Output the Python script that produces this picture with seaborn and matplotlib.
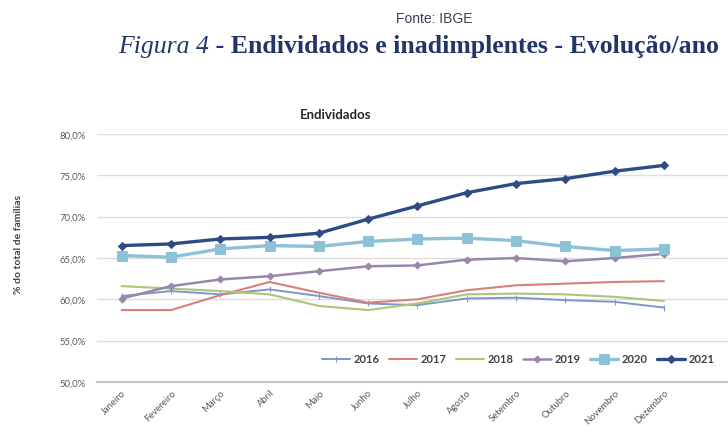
import matplotlib
matplotlib.use("Agg")
import matplotlib.pyplot as plt
import seaborn as sns
import numpy as np
import pandas as pd
from matplotlib.ticker import FixedLocator

# dados (% do total de famílias endividadas)
meses = ["Janeiro", "Fevereiro", "Março", "Abril", "Maio", "Junho",
         "Julho", "Agosto", "Setembro", "Outubro", "Novembro", "Dezembro"]
anos = ["2016", "2017", "2018", "2019", "2020", "2021"]

v2016 = [60.4, 61.0, 60.6, 61.2, 60.4, 59.5, 59.3, 60.1, 60.2, 59.9, 59.7, 59.0]
v2017 = [58.7, 58.7, 60.5, 62.1, 60.8, 59.6, 60.0, 61.1, 61.7, 61.9, 62.1, 62.2]
v2018 = [61.6, 61.3, 61.0, 60.6, 59.2, 58.7, 59.5, 60.6, 60.7, 60.6, 60.3, 59.8]
v2019 = [60.1, 61.6, 62.4, 62.8, 63.4, 64.0, 64.1, 64.8, 65.0, 64.6, 65.0, 65.5]
v2020 = [65.3, 65.1, 66.1, 66.5, 66.4, 67.0, 67.3, 67.4, 67.1, 66.4, 65.9, 66.1]
v2021 = [66.5, 66.7, 67.3, 67.5, 68.0, 69.7, 71.3, 72.9, 74.0, 74.6, 75.5, 76.2]

y_ticks = [50, 55, 60, 65, 70, 75, 80]

COLORS = {
    "2016": "#7d97cc",
    "2017": "#d9807a",
    "2018": "#a9c777",
    "2019": "#9a86ad",
    "2020": "#8cc1d6",
    "2021": "#2f4b86",
}
ESTILO = {
    "2016": dict(marker="|", markersize=4, linewidth=1.4),
    "2017": dict(marker=None, linewidth=1.5),
    "2018": dict(marker=None, linewidth=1.5),
    "2019": dict(marker="D", markersize=3.5, linewidth=1.8),
    "2020": dict(marker="s", markersize=7, linewidth=2.4),
    "2021": dict(marker="D", markersize=4, linewidth=2.4),
}

valores = {"2016": v2016, "2017": v2017, "2018": v2018,
           "2019": v2019, "2020": v2020, "2021": v2021}
df = pd.DataFrame([
    {"mes": i, "ano": ano, "valor": v}
    for ano in anos for i, v in enumerate(valores[ano])
])

sns.set_theme(style="white")
plt.rcParams["font.family"] = ["Lato", "DejaVu Sans"]

fig = plt.figure(figsize=(7.28, 4.39), dpi=100)
fig.patch.set_facecolor("white")
ax = fig.add_axes([97 / 728, 1 - 383 / 439, 631 / 728, 248 / 439])

for ano in anos:
    sub = df[df["ano"] == ano]
    sns.lineplot(data=sub, x="mes", y="valor", ax=ax, color=COLORS[ano],
                 label=ano, markeredgecolor=COLORS[ano], zorder=3,
                 **ESTILO[ano])

ax.set_xlim(-0.5, 12.3)
ax.set_ylim(50, 80)
ax.yaxis.set_major_locator(FixedLocator(y_ticks))
ax.set_yticklabels([f"{t:.1f}%".replace(".", ",") for t in y_ticks])
ax.xaxis.set_major_locator(FixedLocator(range(len(meses))))
ax.set_xticklabels(meses, rotation=45, ha="right", rotation_mode="anchor")
ax.tick_params(axis="both", length=0, labelsize=6.8, colors="#595959")
ax.tick_params(axis="y", pad=8)
ax.tick_params(axis="x", pad=4)
ax.grid(True, axis="y", color="#dedede", linewidth=1.0, zorder=0)
ax.set_xlabel("")
ax.set_ylabel("")
for s in ["top", "right", "left"]:
    ax.spines[s].set_visible(False)
ax.spines["bottom"].set_color("#c8c8c8")
ax.spines["bottom"].set_linewidth(1.6)

ax.legend_.remove()
handles, labels = ax.get_legend_handles_labels()
leg = fig.legend(handles, labels, loc="center left",
                 bbox_to_anchor=(322 / 728, 1 - 360 / 439), ncol=6,
                 frameon=False, handlelength=2.5, handletextpad=0.3,
                 columnspacing=0.9, borderpad=0, borderaxespad=0,
                 prop={"size": 8, "weight": "bold"})
for t in leg.get_texts():
    t.set_color("#404040")

# títulos
fig.text(434 / 728, 1 - 19 / 439, "Fonte: IBGE", ha="center", va="center",
         fontsize=10, color="#3b4152", family="Liberation Sans")
fig.canvas.draw()
r = fig.canvas.get_renderer()
t1 = fig.text(118 / 728, 1 - 47 / 439, "Figura 4", ha="left", va="center",
              fontsize=18.5, style="italic", color="#22346a",
              family="Liberation Serif")
bb = t1.get_window_extent(r)
fig.text(bb.x1 / 728, 1 - 47 / 439, " - Endividados e inadimplentes - Evolução/ano",
         ha="left", va="center", fontsize=18.5, weight="bold", color="#22346a",
         family="Liberation Serif")

fig.text(336 / 728, 1 - 115 / 439, "Endividados", ha="center", va="center",
         fontsize=9.5, weight="bold", color="#262626")
fig.text(19 / 728, 1 - 244 / 439, "% do total de famílias", ha="center",
         va="center", rotation=90, fontsize=7.5, weight="bold", color="#404040")

fig.savefig("out.png", dpi=100, facecolor="white")
